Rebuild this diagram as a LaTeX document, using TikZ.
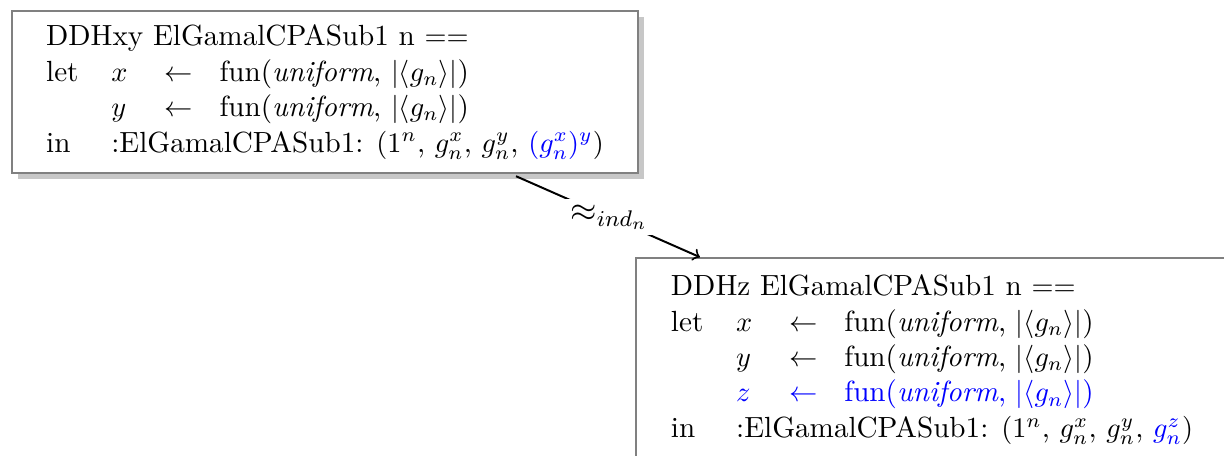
\documentclass[tikz,border=0pt]{standalone}
\usetikzlibrary{shadows}
\tikzset{
  codebox/.style={draw=black!50, line width=0.7pt, fill=white, rectangle, inner sep=0pt,
    font=\fontsize{10.3}{12.5}\selectfont,
    general shadow={fill=black!22, shadow xshift=2.2pt, shadow yshift=-2.2pt}},
  codebox2/.style={draw=black!50, line width=0.7pt, fill=white, rectangle, inner sep=0pt,
    font=\fontsize{10.3}{12.5}\selectfont},
  eqlabel/.style={fill=white, inner sep=2pt, font=\large}
}
\newcommand{\unif}{\textit{uniform}}
\newcommand{\cols}{@{}l@{\hspace{11.6pt}}l@{\hspace{13pt}}l@{\hspace{9.5pt}}l@{}}
\begin{document}
\begin{tikzpicture}[x=0.3533pt, y=-0.3533pt]
\useasboundingbox (0,0) rectangle (1224,456);
\node[codebox, minimum width=221.2pt, minimum height=57.2pt] (top) at (325,92) {%
\begin{tabular}{\cols}
\multicolumn{4}{@{}l@{}}{DDHxy ElGamalCPASub1 n $==$}\\
let & $x$ & $\leftarrow$ & fun(\unif, $|\langle g_n\rangle|$)\\
 & $y$ & $\leftarrow$ & fun(\unif, $|\langle g_n\rangle|$)\\
in & \multicolumn{3}{@{}l@{}}{:ElGamalCPASub1: $(1^n$, $g_n^x$, $g_n^y$, \textcolor{blue}{$(g_n^x)^y$}$)$}
\end{tabular}};
\node[codebox2, minimum width=209pt, minimum height=71.6pt] (bot) at (932,359.5) {%
\begin{tabular}{\cols}
\multicolumn{4}{@{}l@{}}{DDHz ElGamalCPASub1 n $==$}\\
let & $x$ & $\leftarrow$ & fun(\unif, $|\langle g_n\rangle|$)\\
 & $y$ & $\leftarrow$ & fun(\unif, $|\langle g_n\rangle|$)\\
 & \textcolor{blue}{$z$} & \textcolor{blue}{$\leftarrow$} & \textcolor{blue}{fun(\unif, $|\langle g_n\rangle|$)}\\
in & \multicolumn{3}{@{}l@{}}{:ElGamalCPASub1: $(1^n$, $g_n^x$, $g_n^y$, \textcolor{blue}{$g_n^z$}$)$}
\end{tabular}};
\draw[->, line width=0.7pt, shorten <=2pt] (top) -- node[eqlabel, pos=0.52] (lab) {$\approx_{ind_n}$} (bot);
\end{tikzpicture}
\end{document}
